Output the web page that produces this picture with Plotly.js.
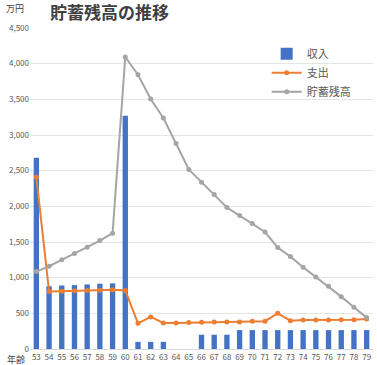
<!DOCTYPE html>
<html><head><meta charset="utf-8">
<script src="https://cdn.plot.ly/plotly-3.0.1.min.js"></script>
<style>html,body{margin:0;padding:0;background:#fff}#chart{width:377px;height:365px}</style>
</head><body><div id="chart"></div>
<script>
const ages = ["53","54","55","56","57","58","59","60","61","62","63","64","65","66","67","68","69","70","71","72","73","74","75","76","77","78","79"];
const income = [2680,880,890,895,905,915,920,3270,100,100,100,0,0,200,200,200,265,265,265,265,265,265,265,265,265,265,265];
const expense = [2410,805,810,815,820,825,830,820,360,450,365,365,370,375,380,380,380,390,390,500,397,405,405,405,410,410,420];
const savings = [1085,1160,1250,1340,1427,1520,1623,4094,3845,3504,3238,2882,2517,2339,2166,1983,1871,1759,1640,1422,1295,1147,1010,880,734,585,440];
const yTicks = [0,500,1000,1500,2000,2500,3000,3500,4000,4500];
const font = "'Noto Sans CJK JP', 'Noto Sans', sans-serif";

const traces = [
  {type:'bar', name:'収入', x:ages, y:income, marker:{color:'#4472C4'}},
  {type:'scatter', mode:'lines+markers', name:'支出', x:ages, y:expense,
   line:{color:'#ED7D31', width:2}, marker:{color:'#ED7D31', size:5}},
  {type:'scatter', mode:'lines+markers', name:'貯蓄残高', x:ages, y:savings,
   line:{color:'#A5A5A5', width:2}, marker:{color:'#A5A5A5', size:5}}
];
const layout = {
  width:377, height:365,
  margin:{l:30, r:4, t:28, b:16, autoexpand:false},
  paper_bgcolor:'#fff', plot_bgcolor:'#fff',
  font:{family:font, color:'#595959', size:8},
  bargap:0.58,
  showlegend:true,
  title:{text:'貯蓄残高の推移', x:50/377, xanchor:'left', y:1-13/365, yanchor:'middle', automargin:false,
         font:{family:font, size:17, color:'#404040', weight:'bold'}},
  legend:{x:0.69, y:0.965, xanchor:'left', yanchor:'top', bgcolor:'rgba(0,0,0,0)',
          font:{family:font, size:11, color:'#595959'}, tracegroupgap:0},
  xaxis:{type:'category', range:[-0.5, ages.length-0.5], tickvals:ages, ticktext:ages, showgrid:false, showline:true, automargin:false,
         linecolor:'#D9D9D9', ticks:'', tickfont:{size:8, color:'#595959'}, fixedrange:true},
  yaxis:{range:[0,4500], tickvals:yTicks, tickformat:',d', showgrid:true, gridcolor:'#E5E5E5', automargin:false,
         zeroline:false, showline:false, ticks:'', tickfont:{size:8, color:'#595959'}, fixedrange:true},
  annotations:[
    {text:'万円', xref:'paper', yref:'paper', x:-0.075, y:1.035, xanchor:'left', yanchor:'bottom',
     showarrow:false, font:{family:font, size:9, color:'#404040'}},
    {text:'年齢', xref:'paper', yref:'paper', x:-0.07, y:0, xanchor:'left', yanchor:'middle', yshift:-10, borderpad:0,
     showarrow:false, font:{family:font, size:9, color:'#404040'}}
  ]
};
Plotly.newPlot('chart', traces, layout, {displayModeBar:false, staticPlot:true});
</script></body></html>
